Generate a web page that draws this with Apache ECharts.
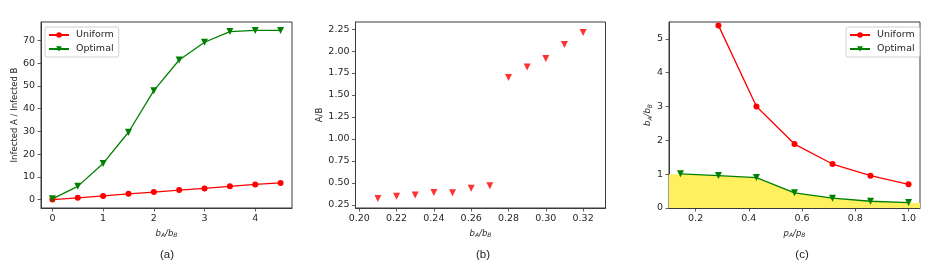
<!DOCTYPE html>
<html><head><meta charset="utf-8">
<script src="https://cdn.jsdelivr.net/npm/echarts@6/dist/echarts.min.js"></script>
<style>html,body{margin:0;padding:0;background:#fff}#c{width:941px;height:271px}</style>
</head><body><div id="c"></div>
<script>
// Panel (a)
const xA = [0, 0.5, 1, 1.5, 2, 2.5, 3, 3.5, 4, 4.5];
const uniformA = [0, 0.75, 1.6, 2.5, 3.3, 4.15, 4.9, 5.8, 6.65, 7.3];
const optimalA = [0.3, 5.8, 15.9, 29.6, 47.9, 61.4, 69.2, 73.9, 74.4, 74.4];
const ticksAx = [0, 1, 2, 3, 4];
const ticksAy = [0, 10, 20, 30, 40, 50, 60, 70];
// Panel (b)
const xB = [0.21, 0.22, 0.23, 0.24, 0.25, 0.26, 0.27, 0.28, 0.29, 0.30, 0.31, 0.32];
const yB = [0.323, 0.349, 0.364, 0.391, 0.39, 0.44, 0.47, 1.70, 1.818, 1.916, 2.075, 2.21];
const ticksBx = [0.20, 0.22, 0.24, 0.26, 0.28, 0.30, 0.32];
const ticksBy = [0.25, 0.50, 0.75, 1.00, 1.25, 1.50, 1.75, 2.00, 2.25];
// Panel (c)
const xC = [0.1429, 0.2857, 0.4286, 0.5714, 0.7143, 0.8571, 1.0];
const uniformC = [null, 5.4, 3.0, 1.89, 1.30, 0.955, 0.70];
const optimalC = [1.01, 0.96, 0.90, 0.45, 0.29, 0.20, 0.16];
const fillX = [0.1, 0.1429, 0.2857, 0.4286, 0.5714, 0.7143, 0.8571, 1.0, 1.043];
const fillY = [1.0, 1.0, 0.95, 0.89, 0.44, 0.28, 0.19, 0.15, 0.15];
const ticksCx = [0.2, 0.4, 0.6, 0.8, 1.0];
const ticksCy = [0, 1, 2, 3, 4, 5];

const FONT = 'DejaVu Sans';
const RED = '#ff0000', GREEN = '#008000';
const pairs = (xs, ys) => xs.map((x, i) => [x, ys[i]]).filter(p => p[1] !== null);

const frame = '#3a3a3a';
function axisBase(ticks, fmt) {
  return {
    axisLine: {show: true, onZero: false, lineStyle: {color: frame, width: 1}},
    axisTick: {show: true, inside: false, length: 3.5, lineStyle: {color: frame, width: 0.8}, customValues: ticks},
    axisLabel: {color: '#262626', fontFamily: FONT, fontSize: 9.5, margin: 6, customValues: ticks,
      formatter: fmt || (v => String(v))},
    splitLine: {show: false}
  };
}
const rich = {
  i: {fontFamily: FONT, fontStyle: 'italic', fontSize: 8.5, color: '#262626'},
  n: {fontFamily: FONT, fontSize: 8.5, fontStyle: 'italic', color: '#262626'},
  s: {fontFamily: FONT, fontStyle: 'italic', fontSize: 6, color: '#262626', padding: [5, 0, 0, 0]}
};
const bAbB = '{i|b}{s|A}{n|/}{i|b}{s|B}';
const pApB = '{i|p}{s|A}{n|/}{i|p}{s|B}';

const grids = [
  {left: 41, top: 22, width: 251, height: 186, show: true, borderColor: frame, borderWidth: 1},
  {left: 355.5, top: 22, width: 250, height: 186, show: true, borderColor: frame, borderWidth: 1},
  {left: 669, top: 22, width: 251, height: 186, show: true, borderColor: frame, borderWidth: 1}
];

const xAxes = [
  Object.assign(axisBase(ticksAx), {type: 'value', gridIndex: 0, min: -0.225, max: 4.725,
    name: bAbB, nameLocation: 'middle', nameGap: 17, nameTextStyle: {rich}}),
  Object.assign(axisBase(ticksBx, v => v.toFixed(2)), {type: 'value', gridIndex: 1, min: 0.198, max: 0.332,
    name: bAbB, nameLocation: 'middle', nameGap: 17, nameTextStyle: {rich}}),
  Object.assign(axisBase(ticksCx, v => v.toFixed(1)), {type: 'value', gridIndex: 2, min: 0.1, max: 1.043,
    name: pApB, nameLocation: 'middle', nameGap: 17, nameTextStyle: {rich}})
];
const yAxes = [
  Object.assign(axisBase(ticksAy), {type: 'value', gridIndex: 0, min: -3.72, max: 78.1,
    name: 'Infected A / Infected B', nameLocation: 'middle', nameGap: 20, nameRotate: 90,
    nameTextStyle: {fontFamily: FONT, fontSize: 8.5, color: '#262626'}}),
  Object.assign(axisBase(ticksBy, v => v.toFixed(2)), {type: 'value', gridIndex: 1, min: 0.216, max: 2.33,
    name: 'A/B', nameLocation: 'middle', nameGap: 29, nameRotate: 90,
    nameTextStyle: {fontFamily: FONT, fontSize: 8.5, color: '#262626'}}),
  Object.assign(axisBase(ticksCy), {type: 'value', gridIndex: 2, min: 0, max: 5.5,
    name: bAbB, nameLocation: 'middle', nameGap: 14, nameRotate: 90, nameTextStyle: {rich}})
];

const lineS = (name, data, color, symbol, rot, xi) => ({
  name, type: 'line', xAxisIndex: xi, yAxisIndex: xi, data,
  symbol, symbolSize: symbol === 'circle' ? 6 : 7, symbolRotate: rot,
  showAllSymbol: true, animation: false,
  itemStyle: {color}, lineStyle: {color, width: 1.3}, z: 3
});

const series = [
  lineS('Uniform', pairs(xA, uniformA), RED, 'circle', 0, 0),
  lineS('Optimal', pairs(xA, optimalA), GREEN, 'triangle', 180, 0),
  {name: 'AB', type: 'scatter', xAxisIndex: 1, yAxisIndex: 1, data: pairs(xB, yB),
   symbol: 'triangle', symbolRotate: 180, symbolSize: 7, itemStyle: {color: RED}, animation: false},
  {name: 'fill', type: 'line', xAxisIndex: 2, yAxisIndex: 2, data: pairs(fillX, fillY),
   symbol: 'none', lineStyle: {width: 0}, areaStyle: {color: '#fff05f', opacity: 1}, silent: true, z: 1, animation: false},
  lineS('Uniform', pairs(xC, uniformC), RED, 'circle', 0, 2),
  lineS('Optimal', pairs(xC, optimalC), GREEN, 'triangle', 180, 2)
];

const legendBase = {
  orient: 'vertical', itemWidth: 20, itemHeight: 7, itemGap: 4,
  backgroundColor: '#fff', borderColor: '#d0d0d0', borderWidth: 1, borderRadius: 2,
  padding: [3, 5, 3, 3], textStyle: {fontFamily: FONT, fontSize: 9.5, color: '#262626', padding: [0, 0, 0, 2]},
  data: ['Uniform', 'Optimal']
};

const titles = [
  {text: '(a)', left: 162, top: 244, textAlign: 'center'},
  {text: '(b)', left: 478, top: 244, textAlign: 'center'},
  {text: '(c)', left: 797, top: 244, textAlign: 'center'}
].map(t => Object.assign(t, {textStyle: {fontFamily: 'Liberation Sans', fontSize: 11.5, fontWeight: 'normal', color: '#222'}}));

const chart = echarts.init(document.getElementById('c'), null, {renderer: 'canvas'});
chart.setOption({
  animation: false,
  backgroundColor: '#fff',
  title: titles,
  grid: grids,
  xAxis: xAxes,
  yAxis: yAxes,
  legend: [
    Object.assign({}, legendBase, {left: 45, top: 27}),
    Object.assign({}, legendBase, {left: 846, top: 27})
  ],
  series
});
</script></body></html>
